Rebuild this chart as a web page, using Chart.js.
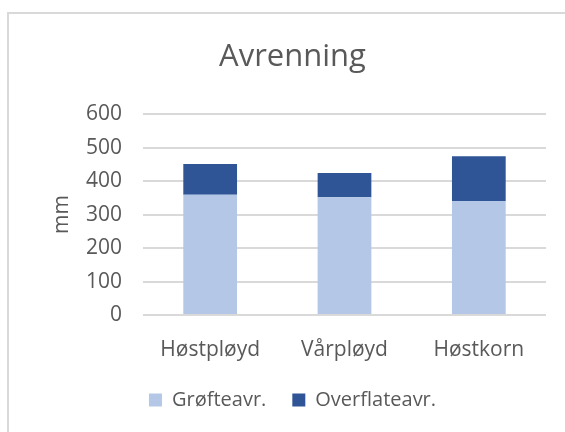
<!DOCTYPE html>
<html>
<head>
<meta charset="utf-8">
<script src="https://cdn.jsdelivr.net/npm/chart.js@4"></script>
<style>
  html, body { margin: 0; padding: 0; background: #fff; }
  #wrap { position: relative; width: 565px; height: 432px; overflow: hidden; }
  #frame { position: absolute; left: 7px; top: 12px; width: 600px; height: 500px;
    border-left: 2.5px solid #d9d9d9; border-top: 2.5px solid #d9d9d9; }
  canvas { position: absolute; left: 0; top: 0; }
</style>
</head>
<body>
<div id="wrap">
  <div id="frame"></div>
  <canvas id="avrChart" width="565" height="432"></canvas>
</div>
<script>
const categories = ['Høstpløyd', 'Vårpløyd', 'Høstkorn'];
const grofteavr = [359, 352, 341];
const overflateavr = [92, 72, 133];
const yTicks = [0, 100, 200, 300, 400, 500, 600];

const textColor = '#595959';
const fontFamily = '"Open Sans", "Noto Sans", sans-serif';

const ctx = document.getElementById('avrChart').getContext('2d');

new Chart(ctx, {
  type: 'bar',
  data: {
    labels: categories,
    datasets: [
      {
        label: 'Grøfteavr.',
        data: grofteavr,
        backgroundColor: '#b4c7e7',
        barPercentage: 0.4,
        categoryPercentage: 1,
      },
      {
        label: 'Overflateavr.',
        data: overflateavr,
        backgroundColor: '#2f5597',
        barPercentage: 0.4,
        categoryPercentage: 1,
      },
    ],
  },
  options: {
    responsive: false,
    animation: false,
    layout: { padding: { left: 39, right: 19, top: 0, bottom: 12 } },
    plugins: {
      title: {
        display: true,
        text: 'Avrenning',
        color: textColor,
        font: { family: fontFamily, size: 31, weight: 'normal' },
        padding: { top: 39, bottom: 38 },
      },
      legend: {
        display: true,
        position: 'bottom',
        labels: {
          color: textColor,
          font: { family: fontFamily, size: 20 },
          boxWidth: 13,
          boxHeight: 13,
          padding: 26,
        },
      },
      tooltip: { enabled: false },
    },
    scales: {
      x: {
        stacked: true,
        grid: { display: false },
        border: { display: false },
        afterFit: (scale) => {
          scale.height = 49;
        },
        ticks: {
          color: textColor,
          font: { family: fontFamily, size: 21 },
          padding: 14,
        },
      },
      y: {
        stacked: true,
        min: 0,
        max: 600,
        afterBuildTicks: (scale) => {
          scale.ticks = yTicks.map((v) => ({ value: v }));
        },
        afterFit: (scale) => {
          scale.width = 104;
        },
        grid: { color: '#d9d9d9', lineWidth: 2, drawTicks: false },
        border: { display: false },
        ticks: {
          color: textColor,
          font: { family: fontFamily, size: 21 },
          padding: 21,
        },
        title: {
          display: true,
          text: 'mm',
          color: textColor,
          font: { family: fontFamily, size: 21 },
          padding: { top: 10, bottom: 0 },
        },
      },
    },
  },
});
</script>
</body>
</html>
